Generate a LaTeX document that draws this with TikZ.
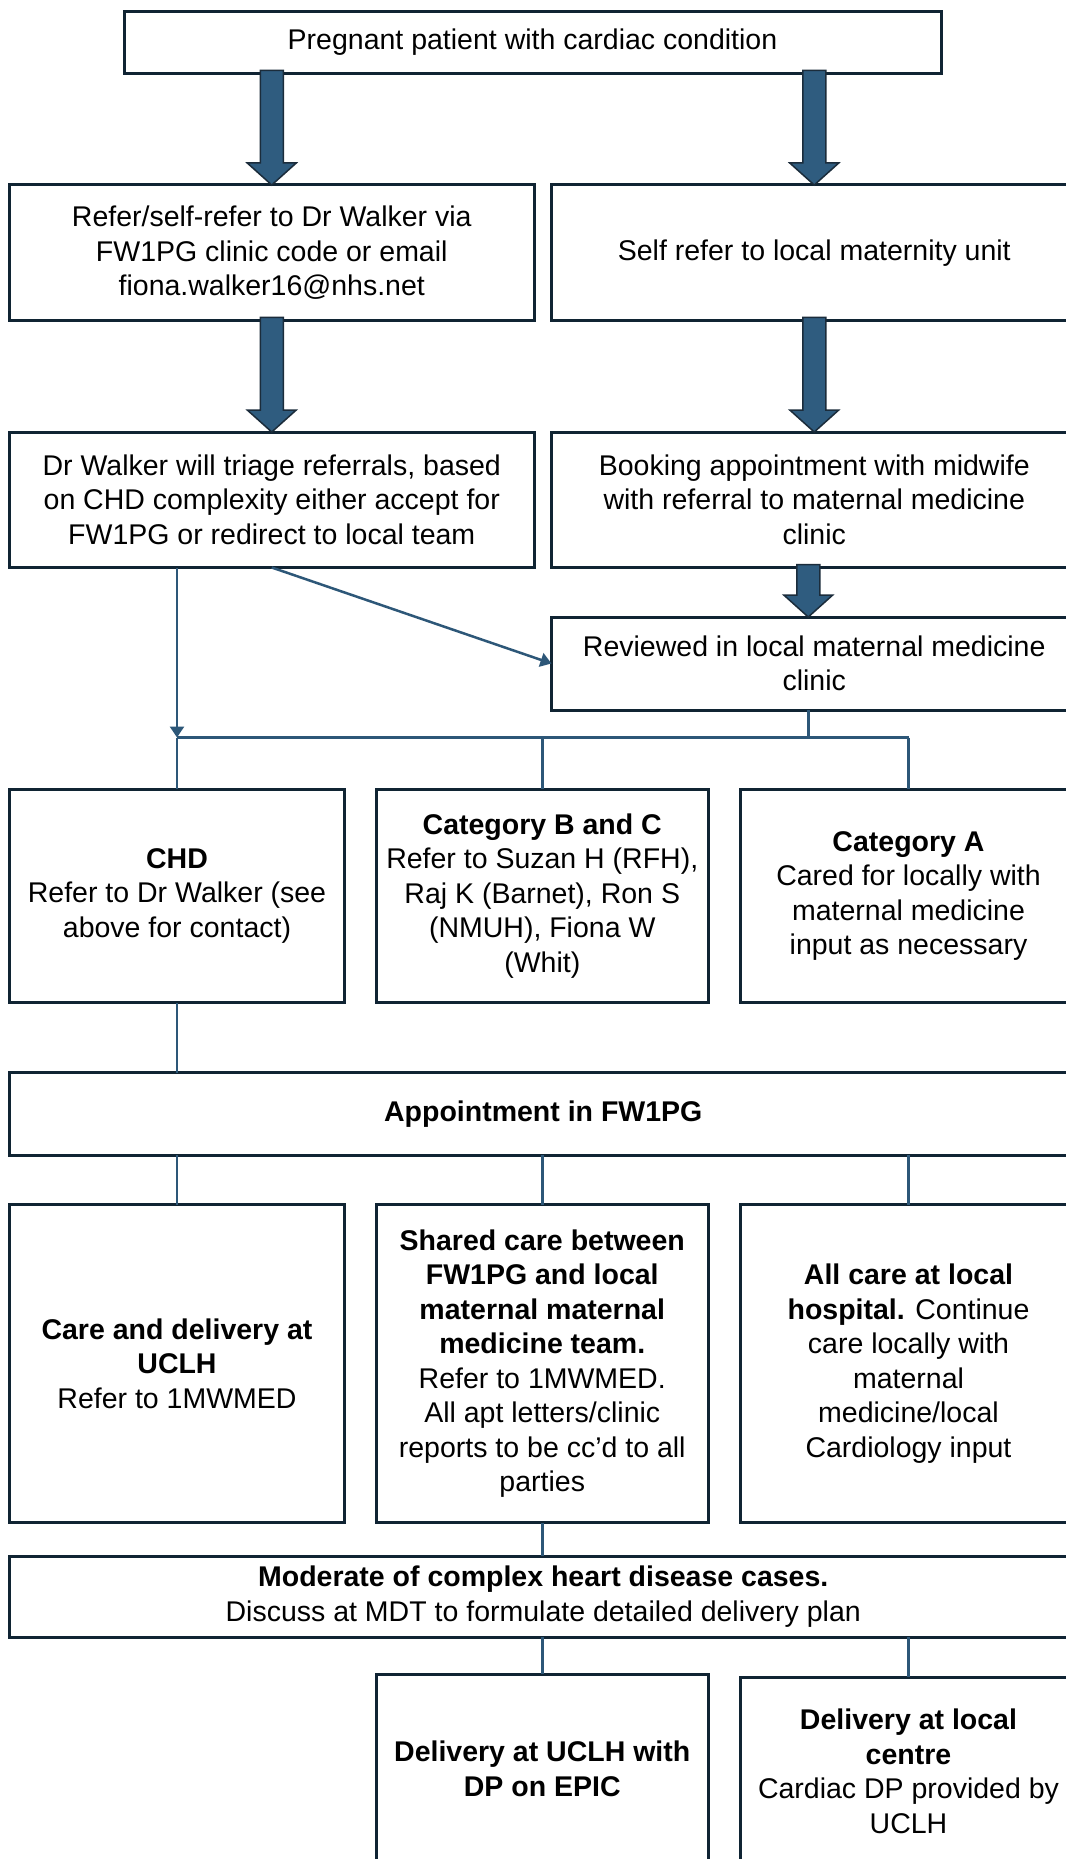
\documentclass[tikz,border=0pt]{standalone}
\usepackage{fontspec}
\setmainfont{Liberation Sans}
\usetikzlibrary{calc,arrows.meta}
\definecolor{boxcol}{HTML}{102433}
\definecolor{conncol}{HTML}{2D5778}
\definecolor{arrfill}{HTML}{2F5C7F}
\definecolor{arrline}{HTML}{1B2C3B}
\newcommand\fatarrow[2]{%
  \filldraw[fatarr] ($(#1)+(-11.5,-3)$) -- ($(#2)+(-11.5,-22)$) -- ($(#2)+(-24.5,-22)$) -- (#2)
   -- ($(#2)+(24.5,-22)$) -- ($(#2)+(11.5,-22)$) -- ($(#1)+(11.5,-3)$) -- cycle;}
\begin{document}
\begin{tikzpicture}[x=1pt,y=-1pt,
  bx/.style={draw=boxcol, line width=3pt, inner sep=0pt, outer sep=0pt, align=center,
    font=\fontsize{28.5}{34.5}\selectfont},
  conn/.style={draw=conncol, line width=2.5pt},
  thinarr/.style={conn, -{Triangle[width=14pt,length=11pt]}},
  fatarr/.style={fill=arrfill, draw=arrline, line width=1.5pt, line join=miter}]
\fill[white] (0,0) rectangle (1065,1859);
\useasboundingbox (0,0) rectangle (1065,1859);

\node[bx, minimum width=817pt, minimum height=62pt] (top) at (532.5,42.5) {Pregnant patient with cardiac condition};
\node[bx, minimum width=524.5pt, minimum height=135.5pt] (b2L) at (271.75,252.75) {Refer/self-refer to Dr Walker via\\FW1PG clinic code or email\\fiona.walker16@nhs.net};
\node[bx, minimum width=525.5pt, minimum height=135.5pt] (b2R) at (814.25,252.75) {Self refer to local maternity unit};
\node[bx, minimum width=524.5pt, minimum height=135.5pt] (b3L) at (271.75,499.75) {Dr Walker will triage referrals, based\\on CHD complexity either accept for\\FW1PG or redirect to local team};
\node[bx, minimum width=525.5pt, minimum height=135.5pt] (b3R) at (814.25,499.75) {Booking appointment with midwife\\with referral to maternal medicine\\clinic};
\node[bx, minimum width=525.5pt, minimum height=93pt] (rev) at (814.25,663.5) {Reviewed in local maternal medicine\\clinic};

\node[bx, minimum width=335pt, minimum height=213.5pt] (cCHD) at (177,895.75) {\textbf{CHD}\\Refer to Dr Walker (see\\above for contact)};
\node[bx, minimum width=332.5pt, minimum height=213.5pt] (cBC) at (542.25,895.75) {\textbf{Category B and C}\\Refer to Suzan H (RFH),\\Raj K (Barnet), Ron S\\(NMUH), Fiona W\\(Whit)};
\node[bx, minimum width=337pt, minimum height=213.5pt] (cA) at (908.5,895.75) {\textbf{Category A}\\Cared for locally with\\maternal medicine\\input as necessary};

\node[bx, minimum width=1067.5pt, minimum height=82.5pt] (appt) at (543.25,1113.75) {\textbf{Appointment in FW1PG}};

\node[bx, minimum width=335pt, minimum height=318pt] (d1) at (177,1363.5) {\textbf{Care and delivery at}\\\textbf{UCLH}\\Refer to 1MWMED};
\node[bx, minimum width=332.5pt, minimum height=318pt] (d2) at (542.25,1363.5) {\textbf{Shared care between}\\\textbf{FW1PG and local}\\\textbf{maternal maternal}\\\textbf{medicine team.}\\Refer to 1MWMED.\\All apt letters/clinic\\reports to be cc’d to all\\parties};
\node[bx, minimum width=337pt, minimum height=318pt] (d3) at (908.5,1363.5) {\textbf{All care at local}\\\textbf{hospital.} Continue\\care locally with\\maternal\\medicine/local\\Cardiology input};

\node[bx, minimum width=1067.5pt, minimum height=81pt] (mod) at (543.25,1596.5) {\textbf{Moderate of complex heart disease cases.}\\Discuss at MDT to formulate detailed delivery plan};

\node[bx, minimum width=332.5pt, minimum height=190pt] (e1) at (542.25,1769) {\textbf{Delivery at UCLH with}\\\textbf{DP on EPIC}};
\node[bx, minimum width=337pt, minimum height=189pt] (e2) at (908.5,1771.5) {\textbf{Delivery at local}\\\textbf{centre}\\Cardiac DP provided by\\UCLH};

% fat arrows
\coordinate (a1s) at (b2L.north |- top.south);
\coordinate (a2s) at (b2R.north |- top.south);
\coordinate (a5s) at ($(b3R.south)+(-6,0)$);
\coordinate (a5e) at ($(rev.north)+(-6,0)$);
\coordinate (r5) at ($(rev.south)+(-6,0)$);
\fatarrow{a1s}{b2L.north}
\fatarrow{a2s}{b2R.north}
\fatarrow{b2L.south}{b3L.north}
\fatarrow{b2R.south}{b3R.north}
\fatarrow{a5s}{a5e}

% thin connectors
\coordinate (busL) at (177,737.5);
\draw[thinarr] (b3L.south) -- (rev.west);
\draw[thinarr] (b3L.south -| busL) -- (busL);
\draw[conn] (busL) -- (busL -| cA.north);
\draw[conn] (r5) -- (r5 |- busL);
\draw[conn] (busL) -- (cCHD.north);
\draw[conn] (busL -| cBC.north) -- (cBC.north);
\draw[conn] (busL -| cA.north) -- (cA.north);
\draw[conn] (cCHD.south) -- (cCHD.south |- appt.north);
\draw[conn] (appt.south -| d1.north) -- (d1.north);
\draw[conn] (appt.south -| d2.north) -- (d2.north);
\draw[conn] (appt.south -| d3.north) -- (d3.north);
\draw[conn] (d2.south) -- (d2.south |- mod.north);
\draw[conn] (mod.south -| e1.north) -- (e1.north);
\draw[conn] (mod.south -| e2.north) -- (e2.north);
\end{tikzpicture}
\end{document}
